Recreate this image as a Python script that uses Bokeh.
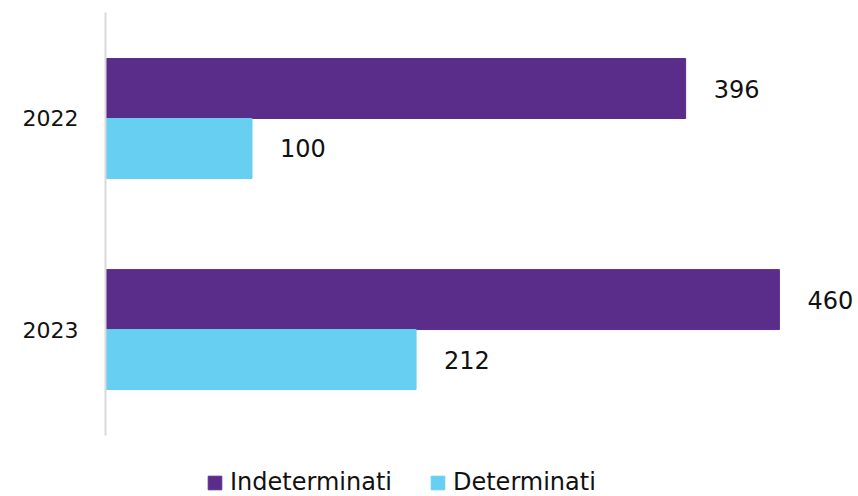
from bokeh.plotting import figure
from bokeh.models import ColumnDataSource, Range1d, Legend, LegendItem, FixedTicker
from bokeh.transform import dodge
from bokeh.core.properties import value
from bokeh.embed import file_html
from bokeh.resources import INLINE

years = ["2022", "2023"]
indeterminati = [396, 460]
determinati = [100, 212]
series_names = ["Indeterminati", "Determinati"]
colors = ["#5a2d8b", "#66cff2"]

FONT = "DejaVu Sans"
BAR_H = 0.284
OFF = BAR_H / 2

idx = list(range(len(years)))
src = ColumnDataSource(dict(
    pos=idx,
    ind=indeterminati,
    det=determinati,
    ind_lbl=[str(v) for v in indeterminati],
    det_lbl=[str(v) for v in determinati],
))

# flipped numeric y: first year on top
p = figure(width=858, height=496, output_backend="svg", toolbar_location=None,
           y_range=Range1d(1.791, -0.559),
           x_range=Range1d(0, 514),
           min_border_left=105, min_border_right=0, min_border_top=0, min_border_bottom=0)
p.outline_line_color = None
p.background_fill_color = "white"
p.border_fill_color = "white"

r1 = p.hbar(y=dodge("pos", -OFF), right="ind", left=0, height=BAR_H, color=colors[0], source=src)
r2 = p.hbar(y=dodge("pos", OFF), right="det", left=0, height=BAR_H, color=colors[1], source=src)

p.text(x="ind", y=dodge("pos", -OFF), text="ind_lbl", source=src,
       x_offset=28, text_baseline="middle", text_font=value(FONT), text_font_size="24px",
       text_color="#111111")
p.text(x="det", y=dodge("pos", OFF), text="det_lbl", source=src,
       x_offset=28, text_baseline="middle", text_font=value(FONT), text_font_size="24px",
       text_color="#111111")

p.xaxis.visible = False
p.xgrid.visible = False
p.ygrid.visible = False
ax = p.yaxis[0]
ax.ticker = FixedTicker(ticks=idx)
ax.major_label_overrides = {i: y for i, y in zip(idx, years)}
ax.bounds = (-0.5, len(years) - 0.5)
ax.axis_line_color = "#d9d9d9"
ax.axis_line_width = 2
ax.major_tick_line_color = None
ax.minor_tick_line_color = None
ax.major_label_text_font = FONT
ax.major_label_text_font_size = "22px"
ax.major_label_text_color = "#111111"
ax.major_label_standoff = 21

legend = Legend(items=[LegendItem(label=series_names[0], renderers=[r1]),
                       LegendItem(label=series_names[1], renderers=[r2])],
                orientation="horizontal", location=(101, 0),
                label_text_font=FONT, label_text_font_size="24px", label_text_color="#111111",
                glyph_width=17, glyph_height=17, spacing=37, label_standoff=7,
                padding=2, margin=0, border_line_color=None, background_fill_alpha=0)
p.add_layout(legend, "center")

open("out.html", "w").write(file_html(p, INLINE))
